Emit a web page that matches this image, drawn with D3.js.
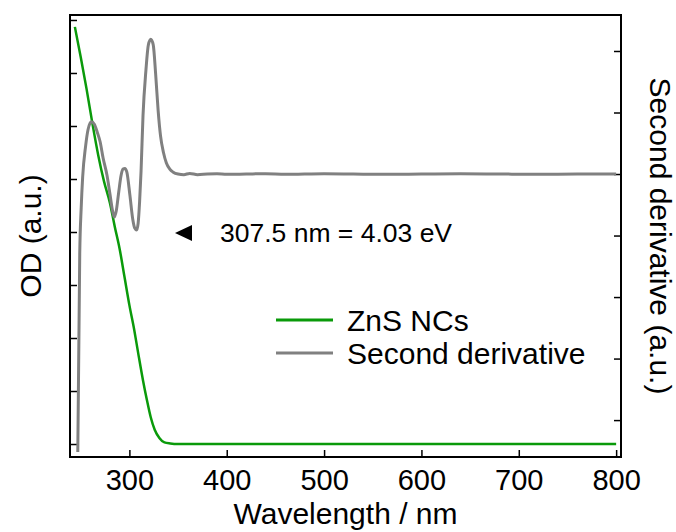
<!DOCTYPE html>
<html>
<head>
<meta charset="utf-8">
<script src="https://cdn.jsdelivr.net/npm/d3@7"></script>
<style>
    body { margin: 0; background: #fff; }
    svg { display: block; font-family: "Liberation Sans", Arial, sans-serif; }
</style>
</head>
<body>
<svg id="chart" width="676" height="532"></svg>
<script>
"use strict";

// Absorption spectrum of the ZnS NCs (left axis, OD)
const odWavelength = [244, 250, 256, 262, 268, 274, 280, 285, 290, 295, 300, 305, 309, 314, 318, 322, 326, 331, 336, 342, 350, 400, 450, 500, 550, 600, 650, 700, 750, 800];
const odValues = [7.87, 7.30, 6.70, 6.05, 5.45, 4.95, 4.55, 4.10, 3.68, 3.15, 2.62, 2.15, 1.72, 1.20, 0.83, 0.50, 0.27, 0.11, 0.03, 0.01, 0.0, 0.0, 0.0, 0.0, 0.0, 0.0, 0.0, 0.0, 0.0, 0.0];

// Second derivative of the spectrum (right axis)
const d2Wavelength = [247, 249, 250.5, 252, 255, 257.5, 261, 264, 267, 270, 273, 277, 280, 282.5, 284.4, 286.5, 289, 291.5, 293.5, 295.4, 297.4, 300.5, 303.5, 305.5, 307.4, 309, 310.5, 312, 314, 317, 319.5, 322, 324.5, 327, 329.5, 332, 335, 338, 341.5, 345, 350, 356, 362, 370, 380, 390, 400, 420, 440, 460, 480, 500, 530, 560, 600, 640, 680, 720, 760, 800];
const d2Values = [-4.52, -1.3, -0.55, -0.05, 0.45, 0.72, 0.85, 0.81, 0.68, 0.52, 0.26, -0.02, -0.32, -0.58, -0.70, -0.60, -0.30, -0.02, 0.08, 0.09, 0.03, -0.34, -0.74, -0.88, -0.91, -0.80, -0.45, 0.05, 0.95, 1.69, 2.10, 2.19, 2.10, 1.62, 1.04, 0.62, 0.35, 0.18, 0.08, 0.03, 0.0, -0.01, 0.01, -0.01, 0.0, 0.005, -0.005, 0.0, 0.005, -0.005, 0.0, 0.005, 0.0, -0.005, 0.0, 0.005, 0.0, -0.005, 0.0, 0.0];

// Ticks (left and right axes carry no labels)
const xTicks = [300, 400, 500, 600, 700, 800];
const leftTicks = [0, 1, 2, 3, 4, 5, 6, 7, 8];
const rightTicks = [-4, -3, -2, -1, 0, 1, 2];

const seriesNames = ["ZnS NCs", "Second derivative"];
const seriesColors = ["#0a9a0a", "#808080"];
const annotationText = "307.5 nm = 4.03 eV";

const margin = {top: 15, right: 55, bottom: 75, left: 70},
    width = 676 - margin.left - margin.right,
    height = 532 - margin.top - margin.bottom,
    fontSize = 30;

const svg = d3.select("#chart");

const xScale = d3.scaleLinear().domain([239, 805]).range([margin.left, margin.left + width]),
    yLeft = d3.scaleLinear().domain([-0.245, 8.094]).range([margin.top + height, margin.top]),
    yRight = d3.scaleLinear().domain([-4.60, 2.585]).range([margin.top + height, margin.top]);

svg.append("clipPath")
    .attr("id", "plotClip")
    .append("rect")
    .attr("x", margin.left)
    .attr("y", margin.top)
    .attr("width", width)
    .attr("height", height);

// Axes, ticks pointing inward
const xAxis = svg.append("g")
    .attr("transform", `translate(0,${margin.top + height})`)
    .call(d3.axisBottom(xScale).tickValues(xTicks).tickSizeInner(-7).tickSizeOuter(0).tickPadding(12));

const leftAxis = svg.append("g")
    .attr("transform", `translate(${margin.left},0)`)
    .call(d3.axisLeft(yLeft).tickValues(leftTicks).tickSizeInner(-7).tickSizeOuter(0).tickFormat(""));

const rightAxis = svg.append("g")
    .attr("transform", `translate(${margin.left + width},0)`)
    .call(d3.axisRight(yRight).tickValues(rightTicks).tickSizeInner(-7).tickSizeOuter(0).tickFormat(""));

[xAxis, leftAxis, rightAxis].forEach((a) => {
    a.select(".domain").remove();
    a.selectAll(".tick line").attr("stroke", "#000").attr("stroke-width", 1.5);
});
xAxis.selectAll(".tick text")
    .attr("font-size", 29)
    .attr("font-family", "Liberation Sans, Arial, sans-serif")
    .attr("fill", "#000");

// Curves
const odLine = d3.line()
    .x((d, i) => xScale(odWavelength[i]))
    .y((d) => yLeft(d))
    .curve(d3.curveMonotoneX);

const d2Line = d3.line()
    .x((d, i) => xScale(d2Wavelength[i]))
    .y((d) => yRight(d))
    .curve(d3.curveMonotoneX);

const curves = svg.append("g").attr("clip-path", "url(#plotClip)");

curves.append("path")
    .datum(odValues)
    .attr("d", odLine)
    .attr("fill", "none")
    .attr("stroke", seriesColors[0])
    .attr("stroke-width", 2.5);

curves.append("path")
    .datum(d2Values)
    .attr("d", d2Line)
    .attr("fill", "none")
    .attr("stroke", seriesColors[1])
    .attr("stroke-width", 3);

// Frame
svg.append("rect")
    .attr("x", margin.left)
    .attr("y", margin.top)
    .attr("width", width)
    .attr("height", height)
    .attr("fill", "none")
    .attr("stroke", "#000")
    .attr("stroke-width", 2);

// Axis titles
svg.append("text")
    .attr("x", margin.left + width / 2)
    .attr("y", 524)
    .attr("text-anchor", "middle")
    .attr("font-size", fontSize)
    .text("Wavelength / nm");

svg.append("text")
    .attr("transform", `translate(41,${margin.top + height / 2}) rotate(-90)`)
    .attr("text-anchor", "middle")
    .attr("font-size", fontSize)
    .text("OD (a.u.)");

svg.append("text")
    .attr("transform", `translate(650,${margin.top + height / 2}) rotate(90)`)
    .attr("text-anchor", "middle")
    .attr("font-size", fontSize)
    .text("Second derivative (a.u.)");

// Annotation marking the minimum of the second derivative
svg.append("path")
    .attr("d", "M175,233L192,225L192,241Z")
    .attr("fill", "#000");

svg.append("text")
    .attr("x", 220)
    .attr("y", 242)
    .attr("font-size", 26.5)
    .text(annotationText);

// Legend
const legend = svg.append("g").attr("transform", "translate(276,320)");
seriesNames.forEach((name, i) => {
    const row = legend.append("g").attr("transform", `translate(0,${i * 33})`);
    row.append("line")
        .attr("x1", 0).attr("x2", 57)
        .attr("y1", 0).attr("y2", 0)
        .attr("stroke", seriesColors[i])
        .attr("stroke-width", 3);
    row.append("text")
        .attr("x", 71)
        .attr("y", 10.5)
        .attr("font-size", fontSize)
        .text(name);
});
</script>
</body>
</html>
